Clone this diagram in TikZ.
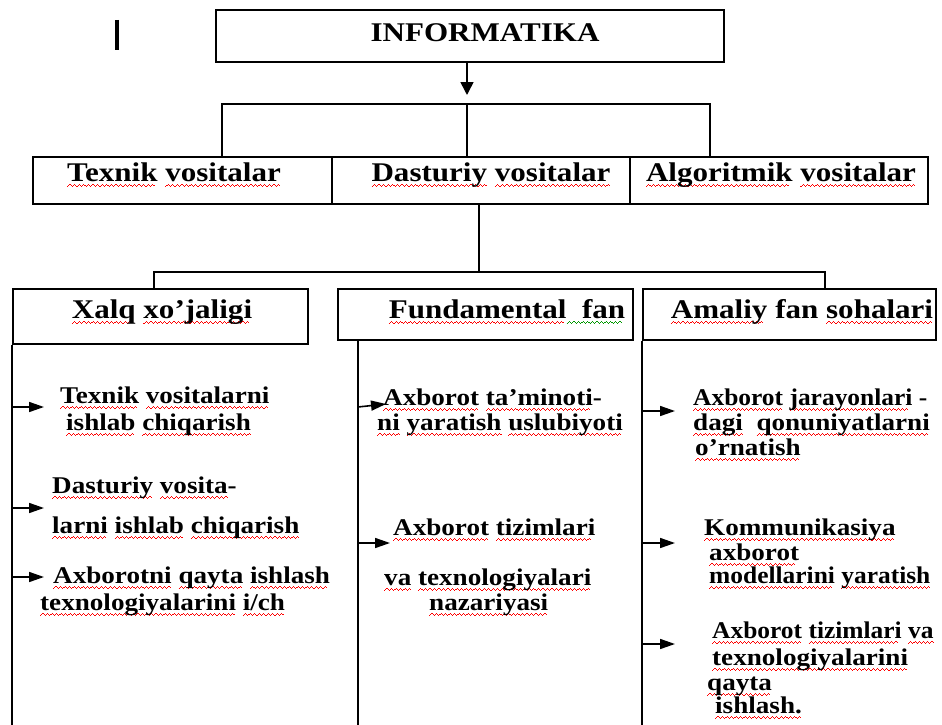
\documentclass[tikz,border=0pt]{standalone}
\usepackage{fontspec}
\setmainfont{Liberation Serif}
\usetikzlibrary{arrows.meta}
\newcommand\wavebox[1]{\hbox{\textcolor{#1}{\rule[-5.4pt]{1pt}{0.9pt}\rule[-4.7pt]{1pt}{0.9pt}\rule[-4pt]{1pt}{0.9pt}\rule[-4.7pt]{1pt}{0.9pt}}}}
\newsavebox\wbox
\newcommand\wvc[2]{\sbox\wbox{#2}\rlap{\hbox to \wd\wbox{\leaders\wavebox{#1}\hfill}}\usebox\wbox}
\newcommand\rw[1]{\wvc{red}{#1}}
\newcommand\gw[1]{\wvc{green!60!black}{#1}}
\newcommand\hx[1]{\scalebox{1.15}[1]{#1}}
\newcommand\sx[1]{\scalebox{1.13}[1]{#1}}
\newcommand\nx[1]{\scalebox{1.06}[1]{#1}}
\tikzset{
  box/.style={draw, line width=1.6pt, inner sep=0pt, anchor=north west},
  hdr/.style={anchor=base, inner sep=0pt, font=\bfseries\fontsize{27}{30}\selectfont},
  body/.style={anchor=base west, inner sep=0pt, font=\bfseries\fontsize{24}{26}\selectfont},
  conn/.style={line width=1.6pt},
  arr/.style={line width=1.6pt, -{Triangle[length=15pt,width=10pt]}},
  bigarr/.style={line width=1.6pt, -{Triangle[length=13pt,width=13pt]}}
}
\begin{document}
\begin{tikzpicture}[x=1pt,y=-1pt]
\useasboundingbox[fill=white] (0,0) rectangle (942,725);
% cursor mark
\draw[line width=4pt] (117,20) -- (117,50);
% top box
\node[box, minimum width=508pt, minimum height=51.5pt] (info) at (215,9.5) {};
\node[hdr] (infot) at (485,42) {\hx{INFORMATIKA}};
% second row
\node[box, minimum width=299pt, minimum height=47pt] (tex) at (32,156) {};
\node[box, minimum width=298pt, minimum height=47pt] (dast) at (331,156) {};
\node[box, minimum width=298pt, minimum height=47pt] (alg) at (629,156) {};
\node[hdr] (texnt) at (174,181) {\hx{\rw{Texnik} \rw{vositalar}}};
\node[hdr] (dastt) at (491,181) {\hx{\rw{Dasturiy} \rw{vositalar}}};
\node[hdr] (algt) at (781,181) {\hx{\rw{Algoritmik} \rw{vositalar}}};
% third row
\node[box, minimum width=295pt, minimum height=55pt] (xalq) at (12,288) {};
\node[box, minimum width=295pt, minimum height=51pt] (fund) at (337,288) {};
\node[box, minimum width=293pt, minimum height=51pt] (amal) at (642,288) {};
\node[hdr] (xalqt) at (162,318) {\hx{\rw{Xalq} \rw{xo’jaligi}}};
\node[hdr] (fundt) at (507,318) {\hx{\rw{Fundamental}\gw{~~fan}}};
\node[hdr] (amalt) at (802,318) {\hx{\rw{Amaliy} fan \rw{sohalari}}};
% connectors top
\coordinate (tip) at (467,95);
\coordinate (bl) at (222,104);
\coordinate (bm) at (467,104);
\coordinate (br) at (710,104);
\draw[bigarr] (info.south -| tip) -- (tip);
\draw[conn] (tex.north -| bl) -- (bl) -- (br) -- (alg.north -| br);
\draw[conn] (bm) -- (dast.north -| bm);
% connectors middle
\coordinate (cl) at (154,272);
\coordinate (cm) at (479,272);
\coordinate (cr) at (825,272);
\draw[conn] (dast.south -| cm) -- (cm);
\draw[conn] (xalq.north -| cl) -- (cl) -- (cr) -- (amal.north -| cr);
% column lines
\coordinate (b1) at (12,725);
\coordinate (b2) at (358,725);
\coordinate (b3) at (642,725);
\draw[conn] (xalq.south west) -- (b1);
\draw[conn] (fund.south -| b2) -- (b2);
\draw[conn] (amal.south west) -- (b3);
% column 1 texts
\node[body] (x1a) at (60,403) {\sx{\rw{Texnik} \rw{vositalarni}}};
\node[body] (x1b) at (66,430) {\sx{\rw{ishlab} \rw{chiqarish}}};
\node[body] (x2a) at (52,493) {\sx{\rw{Dasturiy} \rw{vosita}-}};
\node[body] (x2b) at (52,533) {\sx{\rw{larni} \rw{ishlab} \rw{chiqarish}}};
\node[body] (x3a) at (53,583) {\sx{\rw{Axborotni} \rw{qayta} \rw{ishlash}}};
\node[body] (x3b) at (40,610) {\sx{\rw{texnologiyalarini} \rw{i/ch}}};
% column 2 texts
\node[body] (f1a) at (383,405) {\sx{\rw{Axborot} \rw{ta’minoti}-}};
\node[body] (f1b) at (377,430) {\sx{\rw{ni} \rw{yaratish} \rw{uslubiyoti}}};
\node[body] (f2a) at (393,535) {\sx{\rw{Axborot} \rw{tizimlari}}};
\node[body] (f2b) at (384,585) {\sx{\rw{va} \rw{texnologiyalari}}};
\node[body] (f2c) at (429,610) {\sx{\rw{nazariyasi}}};
% column 3 texts
\node[body] (a1a) at (693,405) {\nx{\rw{Axborot} \rw{jarayonlari} -}};
\node[body] (a1b) at (693,430) {\sx{\rw{dagi}~~\rw{qonuniyatlarni}}};
\node[body] (a1c) at (695,455) {\sx{\rw{o’rnatish}}};
\node[body] (a2a) at (704,535) {\sx{\rw{Kommunikasiya}}};
\node[body] (a2b) at (709,560) {\sx{\rw{axborot}}};
\node[body] (a2c) at (709,583) {\nx{\rw{modellarini} \rw{yaratish}}};
\node[body] (a3a) at (712,638) {\nx{\rw{Axborot} \rw{tizimlari} \rw{va}}};
\node[body] (a3b) at (712,665) {\sx{\rw{texnologiyalarini}}};
\node[body] (a3c) at (707,690) {\sx{\rw{qayta}}};
\node[body] (a3d) at (715,713) {\sx{\rw{ishlash.}}};
% arrows column 1
\coordinate (s11) at (12,407);  \coordinate (e11) at (44,407);
\coordinate (s12) at (12,508);  \coordinate (e12) at (44,508);
\coordinate (s13) at (12,577);  \coordinate (e13) at (44,577);
\draw[arr] (s11) -- (e11);
\draw[arr] (s12) -- (e12);
\draw[arr] (s13) -- (e13);
% arrows column 2
\coordinate (s21) at (358,407); \coordinate (e21) at (386,404);
\coordinate (s22) at (358,543); \coordinate (e22) at (390,543);
\draw[arr] (s21) -- (e21);
\draw[arr] (s22) -- (e22);
% arrows column 3
\coordinate (s31) at (642,411); \coordinate (e31) at (675,411);
\coordinate (s32) at (642,543); \coordinate (e32) at (675,543);
\coordinate (s33) at (642,644); \coordinate (e33) at (675,644);
\draw[arr] (s31) -- (e31);
\draw[arr] (s32) -- (e32);
\draw[arr] (s33) -- (e33);
\end{tikzpicture}
\end{document}
